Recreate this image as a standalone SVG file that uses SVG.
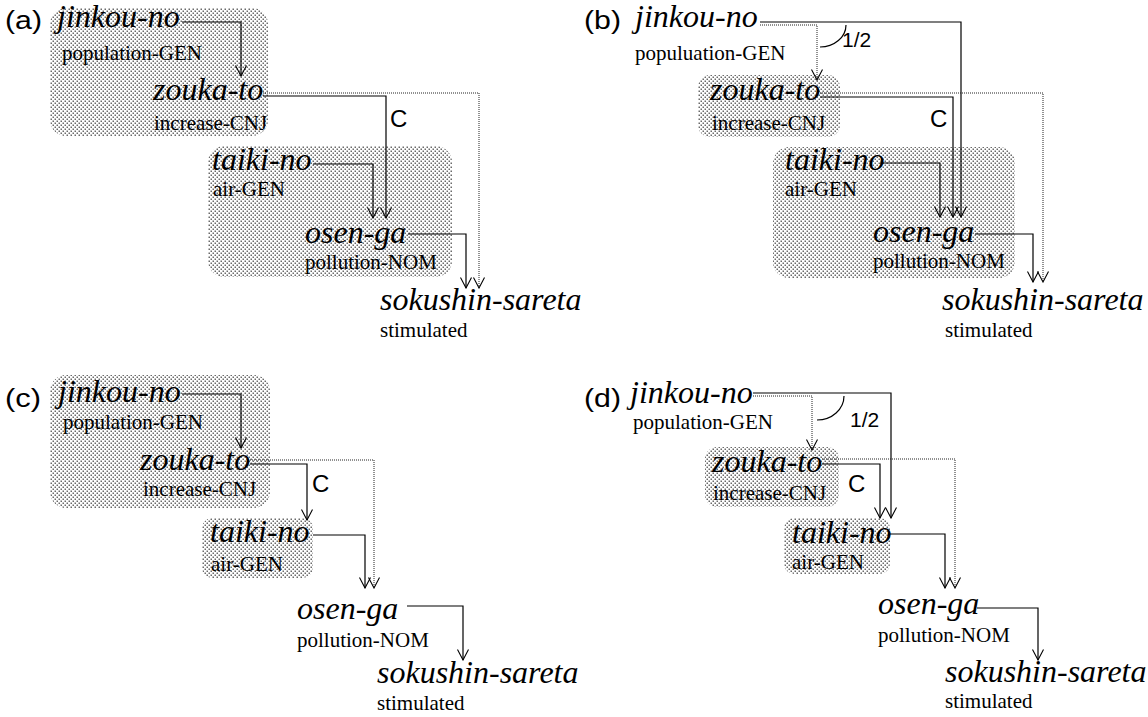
<svg xmlns="http://www.w3.org/2000/svg" width="1148" height="717" viewBox="0 0 1148 717">
<defs>
<pattern id="dots" width="4" height="4" patternUnits="userSpaceOnUse">
<rect width="4" height="4" fill="#ffffff"/>
<rect x="0.5" y="0.5" width="1.5" height="1.5" fill="#6a6a6a"/>
<rect x="2.5" y="2.5" width="1.5" height="1.5" fill="#6a6a6a"/>
</pattern>
<marker id="arr" viewBox="0 0 12 12" refX="11" refY="6" markerWidth="12" markerHeight="12" orient="auto" markerUnits="userSpaceOnUse">
<path d="M0.5,0.5 L11,6 L0.5,11.5" fill="none" stroke="#000" stroke-width="1.1"/>
</marker>
</defs>
<style>
.box{fill:url(#dots);stroke:none}
.w{font-family:"Liberation Serif","Times New Roman",serif;font-style:italic;font-size:32px;fill:#000}
.g{font-family:"Liberation Serif","Times New Roman",serif;font-size:21px;fill:#000}
.lab{font-family:"Liberation Sans",Arial,sans-serif;font-size:24px;fill:#000}
.pl{font-family:"Liberation Sans",Arial,sans-serif;font-size:25px;fill:#000}
.s{fill:none;stroke:#000;stroke-width:1.2;marker-end:url(#arr)}
.d{fill:none;stroke:#222;stroke-width:1;stroke-dasharray:1 1;marker-end:url(#arr)}
.arc{fill:none;stroke:#000;stroke-width:1.2}
</style>
<rect width="1148" height="717" fill="#fff"/>

<!-- Panel (a) -->
<g id="panel-a-boxes">
<rect class="box" x="50" y="8" width="218" height="128" rx="16"/>
<rect class="box" x="208" y="146" width="244" height="131" rx="16"/>
</g>
<text class="pl" x="5" y="29" textLength="37" lengthAdjust="spacingAndGlyphs">(a)</text>
<g id="a-jinkou"><text class="w" x="57" y="27">jinkou-no</text><text class="g" x="62" y="60">population-GEN</text></g>
<g id="a-zouka"><text class="w" x="153" y="100">zouka-to</text><text class="g" x="154" y="130">increase-CNJ</text></g>
<g id="a-taiki"><text class="w" x="212" y="170">taiki-no</text><text class="g" x="213" y="196">air-GEN</text></g>
<g id="a-osen"><text class="w" x="305" y="243">osen-ga</text><text class="g" x="305" y="269">pollution-NOM</text></g>
<g id="a-sokushin"><text class="w" x="380" y="310">sokushin-sareta</text><text class="g" x="380" y="337">stimulated</text></g>
<g id="a-connectors">
<path class="s" d="M182,22 H241 V76"/>
<path class="s" d="M263,96 H386 V218"/>
<path class="d" d="M263,93 H479 V288"/>
<path class="s" d="M313,164 H373 V218"/>
<path class="s" d="M408,234 H466 V288"/>
<text class="lab" x="390" y="127">C</text>
</g>

<!-- Panel (b) -->
<g id="panel-b-boxes">
<rect class="box" x="698" y="75" width="142" height="62" rx="12"/>
<rect class="box" x="773" y="147" width="242" height="131" rx="16"/>
</g>
<text class="pl" x="584" y="29" textLength="37" lengthAdjust="spacingAndGlyphs">(b)</text>
<g id="b-jinkou"><text class="w" x="635" y="27">jinkou-no</text><text class="g" x="635" y="60">populuation-GEN</text></g>
<g id="b-zouka"><text class="w" x="710" y="100">zouka-to</text><text class="g" x="712" y="130">increase-CNJ</text></g>
<g id="b-taiki"><text class="w" x="785" y="170">taiki-no</text><text class="g" x="785" y="196">air-GEN</text></g>
<g id="b-osen"><text class="w" x="873" y="242">osen-ga</text><text class="g" x="873" y="268">pollution-NOM</text></g>
<g id="b-sokushin"><text class="w" x="942" y="310">sokushin-sareta</text><text class="g" x="945" y="337">stimulated</text></g>
<g id="b-connectors">
<path class="s" d="M760,22 H961 V217"/>
<path class="d" d="M760,25 H817 V80"/>
<path class="arc" d="M846,25 A26,22 0 0 1 820,47"/>
<text class="lab" x="842" y="47" style="font-size:21px">1/2</text>
<path class="s" d="M820,97 H953 V217"/>
<path class="d" d="M820,93 H1043 V282"/>
<path class="s" d="M880,163 H940 V217"/>
<path class="s" d="M975,234 H1033 V282"/>
<text class="lab" x="930" y="127">C</text>
</g>

<!-- Panel (c) -->
<g id="panel-c-boxes">
<rect class="box" x="50" y="375" width="220" height="133" rx="16"/>
<rect class="box" x="202" y="518" width="111" height="60" rx="10"/>
</g>
<text class="pl" x="5" y="407" textLength="36" lengthAdjust="spacingAndGlyphs">(c)</text>
<g id="c-jinkou"><text class="w" x="58" y="402">jinkou-no</text><text class="g" x="63" y="429">population-GEN</text></g>
<g id="c-zouka"><text class="w" x="140" y="470">zouka-to</text><text class="g" x="143" y="496">increase-CNJ</text></g>
<g id="c-taiki"><text class="w" x="210" y="542">taiki-no</text><text class="g" x="211" y="571">air-GEN</text></g>
<g id="c-osen"><text class="w" x="297" y="619">osen-ga</text><text class="g" x="297" y="647">pollution-NOM</text></g>
<g id="c-sokushin"><text class="w" x="377" y="683">sokushin-sareta</text><text class="g" x="377" y="710">stimulated</text></g>
<g id="c-connectors">
<path class="s" d="M182,394 H241 V448"/>
<path class="s" d="M250,464 H307 V520"/>
<path class="d" d="M250,460 H374 V588"/>
<path class="s" d="M313,535 H365 V588"/>
<path class="s" d="M407,606 H463 V660"/>
<text class="lab" x="312" y="492">C</text>
</g>

<!-- Panel (d) -->
<g id="panel-d-boxes">
<rect class="box" x="705" y="447" width="134" height="60" rx="12"/>
<rect class="box" x="784" y="518" width="106" height="56" rx="10"/>
</g>
<text class="pl" x="584" y="407" textLength="37" lengthAdjust="spacingAndGlyphs">(d)</text>
<g id="d-jinkou"><text class="w" x="630" y="403">jinkou-no</text><text class="g" x="633" y="429">population-GEN</text></g>
<g id="d-zouka"><text class="w" x="712" y="472">zouka-to</text><text class="g" x="713" y="500">increase-CNJ</text></g>
<g id="d-taiki"><text class="w" x="792" y="543">taiki-no</text><text class="g" x="792" y="569">air-GEN</text></g>
<g id="d-osen"><text class="w" x="878" y="614">osen-ga</text><text class="g" x="878" y="642">pollution-NOM</text></g>
<g id="d-sokushin"><text class="w" x="945" y="682">sokushin-sareta</text><text class="g" x="945" y="708">stimulated</text></g>
<g id="d-connectors">
<path class="s" d="M753,393 H891 V518"/>
<path class="d" d="M753,396 H812 V450"/>
<path class="arc" d="M844,396 A27,24 0 0 1 817,420"/>
<text class="lab" x="850" y="427" style="font-size:21px">1/2</text>
<path class="s" d="M822,464 H880 V518"/>
<path class="d" d="M822,459 H955 V588"/>
<path class="s" d="M888,534 H945 V588"/>
<path class="s" d="M977,608 H1038 V660"/>
<text class="lab" x="848" y="492">C</text>
</g>
</svg>
